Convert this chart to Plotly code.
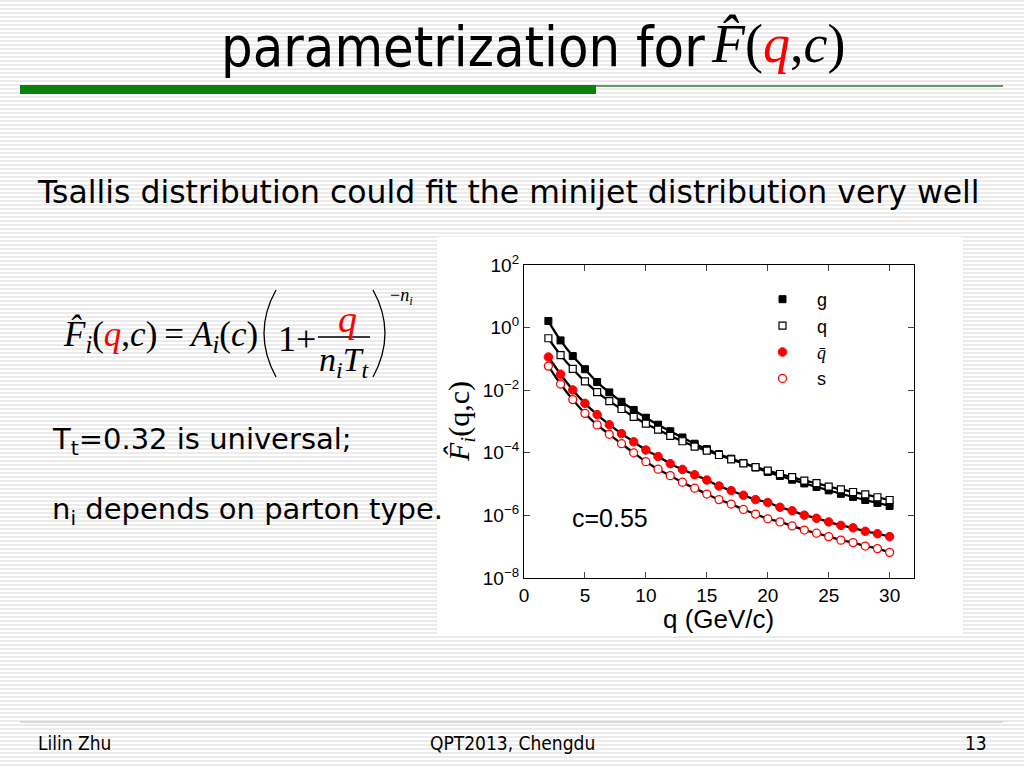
import plotly.graph_objects as go

W, H = 1024, 768

# ---------------- data ----------------
q_gev = list(range(2, 31))

F_g = [1.62, 0.389, 0.123, 0.0468, 0.0182, 8.5e-3, 4.27e-3, 2.34e-3, 1.32e-3, 7.9e-4,
       4.9e-4, 3.09e-4, 1.95e-4, 1.32e-4, 9.1e-5, 6.5e-5, 4.7e-5, 3.4e-5, 2.45e-5, 1.82e-5,
       1.38e-5, 1.05e-5, 8.1e-6, 6.3e-6, 4.9e-6, 3.9e-6, 3.1e-6, 2.5e-6, 2.0e-6]
F_q = [0.457, 0.132, 0.0479, 0.0191, 8.7e-3, 4.47e-3, 2.51e-3, 1.41e-3, 8.5e-4, 5.5e-4,
       3.47e-4, 2.34e-4, 1.58e-4, 1.17e-4, 8.5e-5, 6.2e-5, 4.6e-5, 3.5e-5, 2.7e-5, 2.1e-5,
       1.66e-5, 1.29e-5, 1.07e-5, 8.3e-6, 6.8e-6, 5.6e-6, 4.7e-6, 3.8e-6, 3.1e-6]
F_qbar = [0.115, 0.0324, 0.0102, 3.8e-3, 1.66e-3, 7.9e-4, 4.1e-4, 2.24e-4, 1.23e-4, 7.6e-5,
          4.5e-5, 2.95e-5, 2.0e-5, 1.35e-5, 8.7e-6, 6.2e-6, 4.4e-6, 3.2e-6, 2.6e-6, 1.82e-6,
          1.41e-6, 1.02e-6, 8.1e-7, 6.2e-7, 4.8e-7, 4.0e-7, 3.1e-7, 2.6e-7, 2.1e-7]
F_s = [0.0589, 0.0158, 5.0e-3, 1.82e-3, 7.8e-4, 3.9e-4, 1.95e-4, 1.0e-4, 5.2e-5, 3.0e-5,
       1.86e-5, 1.15e-5, 7.4e-6, 4.8e-6, 3.2e-6, 2.3e-6, 1.55e-6, 1.10e-6, 7.8e-7, 6.2e-7,
       4.6e-7, 3.4e-7, 2.7e-7, 2.1e-7, 1.62e-7, 1.35e-7, 1.05e-7, 8.7e-8, 6.6e-8]

series_names = ["g", "q", "<span style='font-family:Liberation Serif'><i>q̄</i></span>", "s"]
x_ticks = [0, 5, 10, 15, 20, 25, 30]
y_ticks = [1e2, 1e0, 1e-2, 1e-4, 1e-6, 1e-8]
y_ticktext = ["10<sup>2</sup>", "10<sup>0</sup>", "10<sup>−2</sup>", "10<sup>−4</sup>",
              "10<sup>−6</sup>", "10<sup>−8</sup>"]


def px(x):
    return x / W


def py(y):
    return 1 - y / H


fig = go.Figure()

# fitted curves (black lines)
for ys in [F_g, F_q, F_qbar, F_s]:
    fig.add_trace(go.Scatter(x=q_gev, y=ys, mode="lines", line=dict(color="black", width=2.3, shape="spline"),
                             showlegend=False, hoverinfo="skip"))

marker_styles = [
    dict(symbol="square", size=7, color="black", line=dict(color="black", width=1)),
    dict(symbol="square", size=7, color="white", line=dict(color="black", width=1.2)),
    dict(symbol="circle", size=8.5, color="#ff0000", line=dict(color="#ff0000", width=1)),
    dict(symbol="circle", size=8, color="white", line=dict(color="#ff0000", width=1.3)),
]
for i, (ys, nm, ms) in enumerate(zip([F_g, F_q, F_qbar, F_s], series_names, marker_styles)):
    fig.add_trace(go.Scatter(x=q_gev, y=ys, mode="markers", marker=ms, name=nm,
                             legendgroup=f"g{i}", showlegend=True))

shapes = []
# slide stripes
for yy in range(1, H, 4):
    shapes.append(dict(type="line", xref="paper", yref="paper", x0=0, x1=1, y0=py(yy), y1=py(yy),
                       line=dict(color="#e4e4e4", width=1.6), layer="below"))
# chart white panel
shapes.append(dict(type="rect", xref="paper", yref="paper", x0=px(437), x1=px(963), y0=py(636), y1=py(237),
                   fillcolor="white", line=dict(width=0), layer="below"))
# green title bar
shapes.append(dict(type="rect", xref="paper", yref="paper", x0=px(20), x1=px(596), y0=py(94), y1=py(85),
                   fillcolor="#0b820b", line=dict(width=0), layer="above"))
shapes.append(dict(type="line", xref="paper", yref="paper", x0=px(596), x1=px(1003), y0=py(86), y1=py(86),
                   line=dict(color="#2e7d2e", width=1.3)))
# footer line
shapes.append(dict(type="line", xref="paper", yref="paper", x0=px(20), x1=px(1003), y0=py(722), y1=py(722),
                   line=dict(color="#c8d4c8", width=1.3)))
# formula: parentheses and fraction bar
shapes.append(dict(type="path", xref="paper", yref="paper",
                   path=f"M {px(276)},{py(290)} Q {px(252)},{py(333)} {px(276)},{py(377)}",
                   line=dict(color="black", width=1.3)))
shapes.append(dict(type="path", xref="paper", yref="paper",
                   path=f"M {px(373)},{py(290)} Q {px(397)},{py(333)} {px(373)},{py(377)}",
                   line=dict(color="black", width=1.3)))
shapes.append(dict(type="line", xref="paper", yref="paper", x0=px(318), x1=px(370), y0=py(337), y1=py(337),
                   line=dict(color="black", width=1.3)))

serif = "Liberation Serif, Times New Roman, serif"
sans = "DejaVu Sans, Verdana, sans-serif"
cond = "DejaVu Sans Condensed, DejaVu Sans, sans-serif"
arial = "Liberation Sans, Arial, sans-serif"
ann = []


def text(x, y, t, size, family=sans, color="black", xanchor="left", angle=0):
    ann.append(dict(x=px(x), y=py(y), xref="paper", yref="paper", text=t, showarrow=False,
                    xanchor=xanchor, yanchor="middle", textangle=angle, borderpad=0,
                    font=dict(size=size, family=family, color=color)))


text(220, 46, "parametrization for", 55.5, cond)
text(710, 44, "<i>F̂</i>(<i><span style='color:red'>q</span></i>,<i>c</i>)", 54, serif)
text(36, 192, "Tsallis distribution could fit the minijet distribution very well", 31.5, sans)
text(62, 336, "<i>F̂</i><sub><i>i</i></sub>(<i><span style='color:red'>q</span></i>,<i>c</i>)\u2009=\u2009"
              "<i>A</i><sub><i>i</i></sub>(<i>c</i>)", 35, serif)
text(277, 339, "1+", 36, serif)
text(347, 319, "<i>q</i>", 38, serif, color="red", xanchor="center")
text(344, 362, "<i>n</i><sub><i>i</i></sub><i>T</i><sub><i>t</i></sub>", 34, serif, xanchor="center")
text(389, 296, "−<i>n</i><sub><i>i</i></sub>", 18, serif)
text(51, 441, "T<sub>t</sub>=0.32 is universal;", 29, sans)
text(51, 511, "n<sub>i</sub> depends on parton type.", 29, sans)
text(37, 743, "Lilin Zhu", 19, cond)
text(512, 743, "QPT2013, Chengdu", 19, cond, xanchor="center")
text(988, 743, "13", 19, cond, xanchor="right")
# chart annotations
text(571, 518, "c=0.55", 25, arial)
text(718, 619, "q (GeV/c)", 26, arial, xanchor="center")
text(461, 422, "<i>F̂</i><sub><i>i</i></sub>(q,c)", 30, serif, xanchor="center", angle=-90)

fig.update_layout(
    template="none",
    width=W, height=H, margin=dict(l=0, r=0, t=0, b=0, pad=0, autoexpand=False),
    paper_bgcolor="white", plot_bgcolor="rgba(0,0,0,0)",
    shapes=shapes, annotations=ann,
    showlegend=True,
    legend=dict(x=px(748), y=py(281), xanchor="left", yanchor="top", bgcolor="rgba(0,0,0,0)",
                font=dict(size=18, family=arial, color="black"),
                tracegroupgap=0, itemwidth=59),
    xaxis=dict(domain=[px(524), px(914)], range=[0, 32], tickvals=x_ticks, ticks="inside", ticklen=6,
               showline=True, mirror="ticks", linecolor="black", linewidth=1.2, showgrid=False,
               zeroline=False, automargin=False, tickfont=dict(size=19, family=arial, color="black")),
    yaxis=dict(domain=[py(578), py(265)], type="log", range=[-8, 2], tickvals=y_ticks, ticktext=y_ticktext,
               ticks="inside", ticklen=6, showline=True, mirror="ticks", linecolor="black", linewidth=1.2,
               showgrid=False, zeroline=False, automargin=False,
               tickfont=dict(size=19, family=arial, color="black")),
)

fig.write_html("out.html", config={"displayModeBar": False},
               post_script="document.body.style.margin='0px';")
